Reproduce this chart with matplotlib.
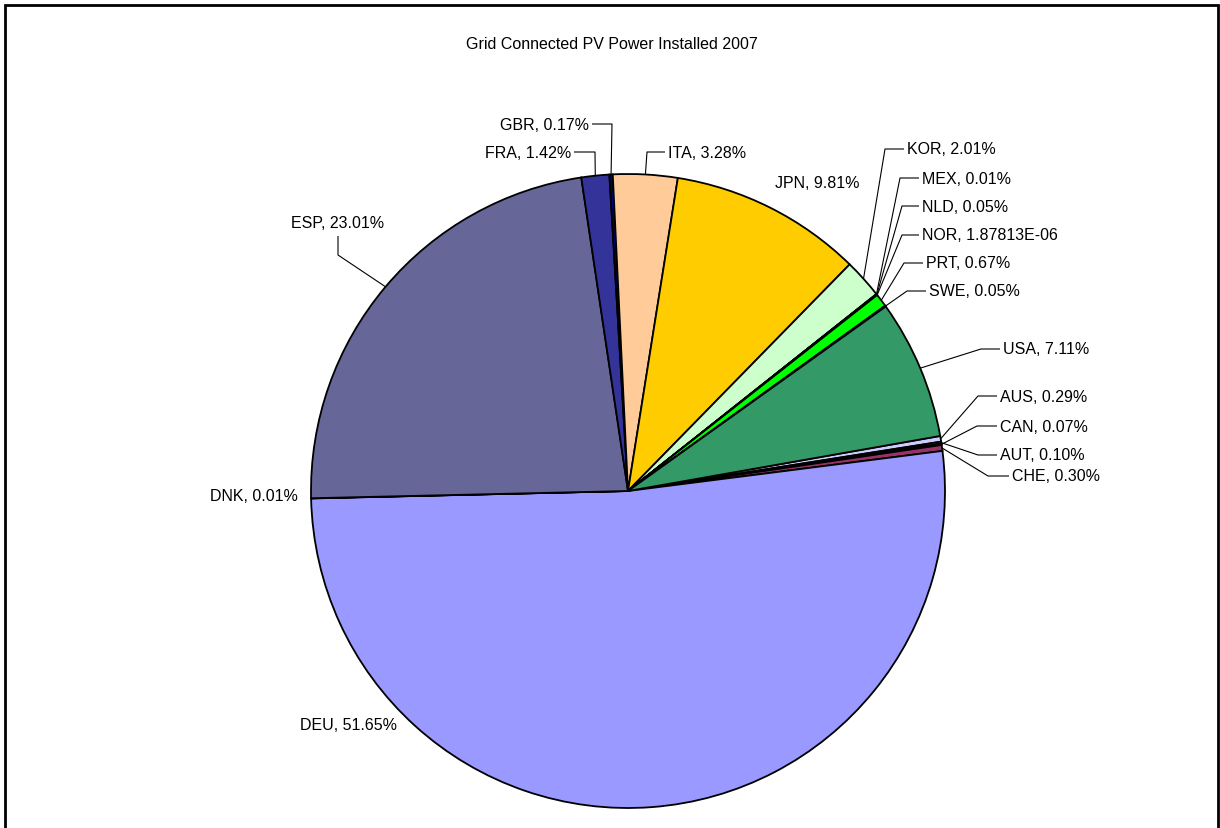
import numpy as np
import matplotlib.pyplot as plt
from matplotlib.patches import Rectangle

plt.rcParams['font.family'] = ['Liberation Sans', 'DejaVu Sans']

W, H = 1220, 829

# share of grid connected PV power installed in 2007, percent
countries = ["AUS", "AUT", "CAN", "CHE", "DEU", "DNK", "ESP", "FRA", "GBR",
             "ITA", "JPN", "KOR", "MEX", "NLD", "NOR", "PRT", "SWE", "USA"]
shares = [0.29, 0.10, 0.07, 0.30, 51.65, 0.01, 23.01, 1.42, 0.17,
          3.28, 9.81, 2.01, 0.01, 0.05, 1.87813e-06, 0.67, 0.05, 7.11]
colors = ["#CCCCFF", "#CC99FF", "#CCCCFF", "#993366", "#9999FF", "#FFFFFF",
          "#666699", "#333399", "#000080", "#FFCC99", "#FFCC00", "#CCFFCC",
          "#FFFF99", "#99CCFF", "#FF99CC", "#00FF00", "#00FFFF", "#339966"]

# label placement in pixel coords (y down): text x, text y, alignment,
# leader points before the wedge edge
label_layout = {
    "GBR": (589, 125, "right", [(592, 125), (612, 125)]),
    "FRA": (571, 153, "right", [(574, 153), (595, 153)]),
    "ITA": (668, 153, "left", [(665, 153), (647, 153)]),
    "JPN": (775, 184, "left", []),
    "KOR": (907, 150, "left", [(904, 150), (885, 150)]),
    "MEX": (922, 179, "left", [(919, 179), (900, 179)]),
    "NLD": (922, 207, "left", [(919, 207), (902, 207)]),
    "NOR": (922, 236, "left", [(919, 236), (902, 236)]),
    "PRT": (926, 264, "left", [(923, 264), (904, 264)]),
    "SWE": (929, 292, "left", [(926, 292), (907, 292)]),
    "USA": (1003, 350, "left", [(1000, 350), (981, 350)]),
    "AUS": (1000, 397, "left", [(997, 397), (978, 397)]),
    "CAN": (1000, 427, "left", [(997, 427), (977, 427)]),
    "AUT": (1000, 456, "left", [(997, 456), (978, 456)]),
    "CHE": (1012, 477, "left", [(1009, 477), (988, 477)]),
    "DEU": (300, 726, "left", []),
    "DNK": (298, 497, "right", []),
    "ESP": (338, 224, "center", [(338, 237), (338, 256)]),
}


def fmt(v):
    if v < 0.001:
        return f"{v:.5E}"
    return f"{v:.2f}%"


cx, cy, r = 628, 492, 317
start = 10

fig = plt.figure(figsize=(W / 100, H / 100), dpi=100)
ax = fig.add_axes([0, 0, 1, 1])

wedges, _ = ax.pie(shares, colors=colors, startangle=start, counterclock=False,
                   center=(cx, H - cy), radius=r,
                   wedgeprops=dict(edgecolor="black", linewidth=1.3))
ax.set_xlim(0, W)
ax.set_ylim(0, H)
ax.set_aspect("auto")
ax.axis("off")

for w, name, val in zip(wedges, countries, shares):
    tx, ty, ha, pts = label_layout[name]
    ax.text(tx, H - ty, f"{name}, {fmt(val)}", ha=ha, va="center", fontsize=11.5,
            color="black")
    if pts:
        mid = np.deg2rad((w.theta1 + w.theta2) / 2)
        ex, ey = cx + r * np.cos(mid), H - cy + r * np.sin(mid)
        xs = [p[0] for p in pts] + [ex]
        ys = [H - p[1] for p in pts] + [ey]
        ax.plot(xs, ys, color="black", lw=0.8, solid_capstyle="butt")

ax.text(612, H - 44, "Grid Connected PV Power Installed 2007", ha="center",
        va="center", fontsize=11.5)

# chart border
ax.add_patch(Rectangle((5, -10), 1213, H - 6 + 10, fill=False, edgecolor="black",
                       linewidth=2, clip_on=False))

plt.savefig("out.png", dpi=100)
